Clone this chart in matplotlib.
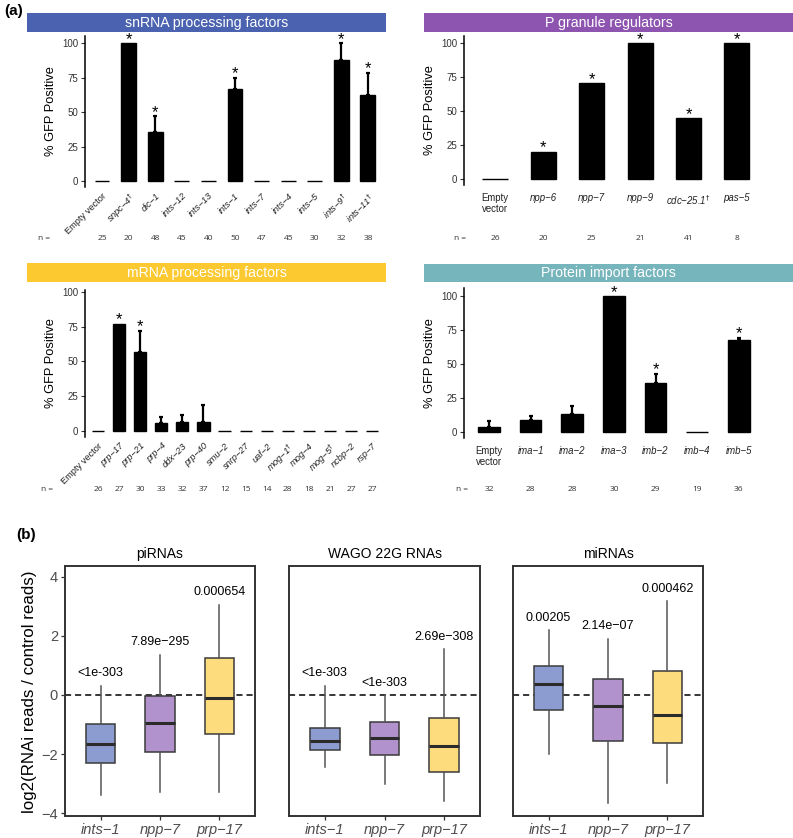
import matplotlib
matplotlib.use("Agg")
import matplotlib.pyplot as plt
from matplotlib.patches import Rectangle
import matplotlib.transforms as mtransforms
import numpy as np

# ---------------- data ----------------
sn_genes = ["Empty vector", "snpc−4", "dic−1", "ints−12", "ints−13", "ints−1",
            "ints−7", "ints−4", "ints−5", "ints−9", "ints−11"]
sn_dagger = [0, 1, 0, 0, 0, 0, 0, 0, 0, 1, 1]
sn_vals = [0, 100, 35.5, 0, 0, 67, 0, 0, 0, 88, 62.3]
sn_err = [0, 0, 11.6, 0, 0, 8, 0, 0, 0, 12, 16]
sn_sig = [0, 1, 1, 0, 0, 1, 0, 0, 0, 1, 1]
sn_n = [25, 20, 48, 45, 40, 50, 47, 45, 30, 32, 38]

pg_genes = ["Empty\nvector", "npp−6", "npp−7", "npp−9", "cdc−25.1", "pas−5"]
pg_dagger = [0, 0, 0, 0, 1, 0]
pg_vals = [0, 20.2, 70.2, 100, 44.6, 100]
pg_err = [0, 0, 0, 0, 0, 0]
pg_sig = [0, 1, 1, 1, 1, 1]
pg_n = [26, 20, 25, 21, 41, 8]

mr_genes = ["Empty vector", "prp−17", "prp−21", "prp−4", "ddx−23", "prp−40", "smu−2",
            "snrp−27", "uaf−2", "mog−1", "mog−4", "mog−5", "ncbp−2", "rsp−7"]
mr_dagger = [0, 0, 0, 0, 0, 0, 0, 0, 0, 1, 0, 1, 0, 0]
mr_vals = [0, 77, 57, 5.8, 6.3, 6.8, 0, 0, 0, 0, 0, 0, 0, 0]
mr_err = [0, 0, 15, 4.2, 5.2, 11.9, 0, 0, 0, 0, 0, 0, 0, 0]
mr_sig = [0, 1, 1, 0, 0, 0, 0, 0, 0, 0, 0, 0, 0, 0]
mr_n = [26, 27, 30, 33, 32, 37, 12, 15, 14, 28, 18, 21, 27, 27]

pi_genes = ["Empty\nvector", "ima−1", "ima−2", "ima−3", "imb−2", "imb−4", "imb−5"]
pi_dagger = [0, 0, 0, 0, 0, 0, 0]
pi_vals = [3.7, 8.6, 13.2, 100, 36.3, 0, 68]
pi_err = [4.1, 2.9, 5.7, 0, 6.6, 0, 1.4]
pi_sig = [0, 0, 0, 1, 1, 0, 1]
pi_n = [32, 28, 28, 30, 29, 19, 36]

box_genes = ["ints−1", "npp−7", "prp−17"]
# each row: whisker low, q1, median, q3, whisker high
piRNA_box = [[-3.38, -2.31, -1.65, -0.98, 0.32],
             [-3.27, -1.94, -0.95, -0.05, 1.36],
             [-3.30, -1.32, -0.10, 1.25, 3.06]]
piRNA_p = ["<1e-303", "7.89e−295", "0.000654"]
wago_box = [[-2.43, -1.86, -1.56, -1.13, 0.32],
            [-3.00, -2.03, -1.45, -0.90, 0.00],
            [-3.58, -2.60, -1.73, -0.79, 1.55]]
wago_p = ["<1e-303", "<1e-303", "2.69e−308"]
mirna_box = [[-2.00, -0.50, 0.37, 0.99, 2.19],
             [-3.66, -1.55, -0.36, 0.55, 1.91],
             [-2.98, -1.63, -0.67, 0.81, 3.18]]
mirna_p = ["0.00205", "2.14e−07", "0.000462"]
box_titles = ["piRNAs", "WAGO 22G RNAs", "miRNAs"]

# ---------------- figure ----------------
W, H = 793, 838
plt.rcParams['font.family'] = ['Liberation Sans', 'DejaVu Sans']
plt.rcParams['mathtext.fontset'] = 'dejavusans'
fig = plt.figure(figsize=(W / 100, H / 100), dpi=100)


def rect(x0, y0, x1, y1):
    return [x0 / W, 1 - y1 / H, (x1 - x0) / W, (y1 - y0) / H]


def fx(x):
    return x / W


def fy(y):
    return 1 - y / H


def header(x0, y0, x1, y1, color, title):
    fig.patches.append(Rectangle((fx(x0), fy(y1)), (x1 - x0) / W, (y1 - y0) / H,
                                 transform=fig.transFigure, facecolor=color,
                                 edgecolor='none', zorder=0))
    fig.text(fx((x0 + x1) / 2), fy((y0 + y1) / 2), title, color='white',
             ha='center', va='center', fontsize=10.2)


def bar_panel(box, xlim, ylim, genes, dagger, vals, err, sig, nvals, n_y, n_lab_x,
              rotate, width, ylab_px):
    ax = fig.add_axes(rect(*box))
    x = np.arange(len(genes))
    vals = np.array(vals, float)
    err = np.array(err, float)
    ax.bar(x, vals, width=width, color='black', edgecolor='black', linewidth=1.0)
    m = err > 0
    if m.any():
        ax.errorbar(x[m], vals[m], yerr=[np.zeros(m.sum()), err[m]], fmt='none',
                    ecolor='black', elinewidth=1.6, capsize=1.6, capthick=1.6)
    for xi, v, e, s in zip(x, vals, err, sig):
        if s:
            ax.text(xi, v + e + 2.8, '*', ha='center', va='center', fontsize=12,
                    clip_on=False)
    ax.set_xlim(*xlim)
    ax.set_ylim(*ylim)
    ax.set_yticks([0, 25, 50, 75, 100])
    labels = [g + (r"$^{\dagger}$" if d else "") for g, d in zip(genes, dagger)]
    ax.set_xticks(x)
    if rotate:
        ax.set_xticklabels(labels, rotation=45, ha='right', va='top',
                           rotation_mode='anchor', fontsize=6.7)
        ax.tick_params(axis='x', length=0, pad=3)
    else:
        ax.set_xticklabels(labels, fontsize=6.9, linespacing=1.1)
        ax.tick_params(axis='x', length=0, pad=6)
    for lab, g in zip(ax.get_xticklabels(), genes):
        if not g.startswith("Empty"):
            lab.set_fontstyle('italic')
        lab.set_color('#222222')
    ax.tick_params(axis='y', length=3, width=0.8, colors='#333333', labelsize=7,
                   pad=2)
    for sp in ['top', 'right', 'bottom']:
        ax.spines[sp].set_visible(False)
    ax.spines['left'].set_linewidth(1.1)
    ax.spines['left'].set_color('black')
    ax.set_ylabel('% GFP Positive', fontsize=9.3)
    ax.yaxis.set_label_coords(-(box[0] - ylab_px) / (box[2] - box[0]), 0.5)
    ax.patch.set_alpha(0)
    trans = mtransforms.blended_transform_factory(ax.transData, fig.transFigure)
    for xi, nv in zip(x, nvals):
        ax.text(xi, fy(n_y), str(nv), transform=trans, ha='center', va='center',
                fontsize=6, family='Open Sans', color='#333333', clip_on=False)
    fig.text(fx(n_lab_x), fy(n_y), 'n =', ha='center', va='center', fontsize=6,
             family='Open Sans', color='#333333')
    return ax


# headers
header(27, 13, 386, 32, '#4A62AF', 'snRNA processing factors')
header(424, 13, 793, 32, '#8E55B0', 'P granule regulators')
header(27, 263, 386, 282, '#FCC931', 'mRNA processing factors')
header(424, 264, 793, 282, '#77B5BD', 'Protein import factors')

bar_panel((85, 36, 386, 187), (-0.64, 10.68), (-4.35, 105.1), sn_genes, sn_dagger,
          sn_vals, sn_err, sn_sig, sn_n, 238, 44, True, 0.56, 57)
bar_panel((464, 36, 793, 185), (-0.64, 6.16), (-4.4, 105.1), pg_genes, pg_dagger,
          pg_vals, pg_err, pg_sig, pg_n, 238, 460, False, 0.52, 436)
bar_panel((85, 290, 386, 437), (-0.62, 13.66), (-4.3, 101.4), mr_genes, mr_dagger,
          mr_vals, mr_err, mr_sig, mr_n, 489, 47, True, 0.58, 57)
bar_panel((464, 288, 793, 438), (-0.6, 7.3), (-4.4, 105.9), pi_genes, pi_dagger,
          pi_vals, pi_err, pi_sig, pi_n, 489, 462, False, 0.52, 436)

fig.text(fx(4), fy(11), '(a)', fontsize=11, fontweight='bold', ha='left', va='center')
fig.text(fx(16), fy(535), '(b)', fontsize=11, fontweight='bold', ha='left', va='center')

# ---------------- part (b) ----------------
box_colors = ['#8D9CD0', '#B292CD', '#FDDC7E']
panels = [(65, 566, 255, 816), (289, 566, 480, 816), (513, 566, 703, 816)]
all_boxes = [piRNA_box, wago_box, mirna_box]
all_p = [piRNA_p, wago_p, mirna_p]
for i, (pb, bx, pv, title) in enumerate(zip(panels, all_boxes, all_p, box_titles)):
    ax = fig.add_axes(rect(*pb))
    stats = []
    for g, row in zip(box_genes, bx):
        stats.append(dict(whislo=row[0], q1=row[1], med=row[2], q3=row[3],
                          whishi=row[4], label=g, fliers=[]))
    ax.axhline(0, color='black', lw=1.1, ls=(0, (4, 2.6)), zorder=1)
    b = ax.bxp(stats, positions=[1, 2, 3], widths=0.5, patch_artist=True,
               showcaps=False, showfliers=False,
               boxprops=dict(edgecolor='#3a3a3a', linewidth=1.1),
               medianprops=dict(color='#2b2b2b', linewidth=2.2),
               whiskerprops=dict(color='#555555', linewidth=1.1))
    for patch, c in zip(b['boxes'], box_colors):
        patch.set_facecolor(c)
        patch.set_zorder(2)
    for med in b['medians']:
        med.set_zorder(3)
    for j, (row, p) in enumerate(zip(bx, pv)):
        ax.text(j + 1, row[4] + 0.42, p, ha='center', va='center', fontsize=9)
    ax.set_xlim(0.4, 3.6)
    ax.set_ylim(-4.1, 4.37)
    ax.set_xticks([1, 2, 3])
    ax.set_xticklabels(box_genes, fontsize=10.5, fontstyle='italic', color='#4D4D4D')
    ax.tick_params(axis='x', length=3, width=0.9, colors='#333333', pad=2)
    for lab in ax.get_xticklabels():
        lab.set_color('#4D4D4D')
    if i == 0:
        ax.set_yticks([-4, -2, 0, 2, 4])
        ax.set_yticklabels(['−4', '−2', '0', '2', '4'])
        ax.tick_params(axis='y', length=3, width=0.9, colors='#333333',
                       labelsize=10.5, pad=2)
        for lab in ax.get_yticklabels():
            lab.set_color('#4D4D4D')
    else:
        ax.set_yticks([])
    for sp in ax.spines.values():
        sp.set_linewidth(1.4)
        sp.set_color('#333333')
    ax.set_title(title, fontsize=10, pad=6)

fig.text(fx(30), fy(692), 'log2(RNAi reads / control reads)', rotation=90,
         ha='center', va='center', fontsize=12.2)

fig.savefig('out.png', dpi=100)
